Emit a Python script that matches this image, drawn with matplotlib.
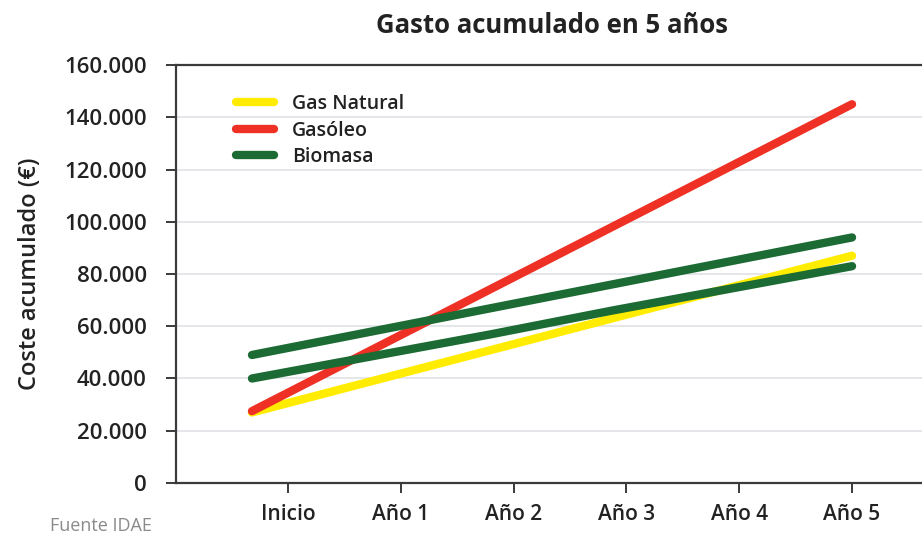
import matplotlib
matplotlib.use("Agg")
import matplotlib.pyplot as plt
import numpy as np
from matplotlib.ticker import FuncFormatter

categories = ["Inicio", "Año 1", "Año 2", "Año 3", "Año 4", "Año 5"]
gas_natural = [27000, 39000, 51000, 63000, 75000, 87000]
gasoleo = [27500, 51000, 74500, 98000, 121500, 145000]
biomasa_alta = [49000, 58000, 67000, 76000, 85000, 94000]
biomasa_baja = [40000, 48500, 57000, 66000, 74500, 83000]
y_ticks = [0, 20000, 40000, 60000, 80000, 100000, 120000, 140000, 160000]

plt.rcParams['font.family'] = ['Open Sans', 'DejaVu Sans']

fig = plt.figure(figsize=(9.22, 5.42), dpi=100)
ax = fig.add_axes([0.1909, 0.1089, 0.8091, 0.7711])

x = np.arange(len(categories))
YEL = "#FFEC00"
RED = "#EE3124"
GRN = "#1C6A34"
lw = 6.0
kw = dict(linewidth=lw, solid_capstyle="round", zorder=3)
ax.plot(x, gas_natural, color=YEL, label="Gas Natural", **kw)
ax.plot(x, gasoleo, color=RED, label="Gasóleo", **kw)
ax.plot(x, biomasa_alta, color=GRN, label="Biomasa", **kw)
ax.plot(x, biomasa_baja, color=GRN, **kw)

ax.set_xlim(-0.633, 5.583)
ax.set_ylim(0, 160000)
ax.set_yticks(y_ticks)
ax.yaxis.set_major_formatter(FuncFormatter(lambda v, p: f"{int(v):,}".replace(",", ".")))
ax.set_xticks(np.linspace(0.3, 5, len(categories)))
ax.set_xticklabels(categories)

for s in ["left", "bottom", "top"]:
    ax.spines[s].set_color("#3a3a3a")
    ax.spines[s].set_linewidth(1.6)
ax.spines["right"].set_visible(False)

ax.grid(axis="y", color="#dfe2e6", linewidth=1.2, zorder=0)
ax.set_axisbelow(True)
ax.tick_params(axis="both", direction="out", length=7, width=1.4, color="#3a3a3a",
               labelcolor="#222222")
ax.tick_params(axis="y", pad=14, labelsize=16)
ax.tick_params(axis="x", pad=8, labelsize=15)
for t in ax.get_yticklabels():
    t.set_fontweight("semibold")
for t in ax.get_xticklabels():
    t.set_fontweight("semibold")

ax.set_ylabel("Coste acumulado (€)", fontsize=17, fontweight="semibold", color="#222222", labelpad=16)
fig.text(0.599, 0.953, "Gasto acumulado en 5 años", ha="center", va="center",
         fontsize=18.5, fontweight="bold", color="#222222")
fig.text(0.054, 0.012, "Fuente IDAE", ha="left", va="bottom", fontsize=13, color="#8a8a8a")

leg = ax.legend(loc="upper left", bbox_to_anchor=(0.08, 0.93), frameon=False,
                fontsize=14, handlelength=1.95, handletextpad=0.95, labelspacing=0.33,
                borderaxespad=0, borderpad=0)
for t in leg.get_texts():
    t.set_color("#222222")
    t.set_fontweight("semibold")

fig.savefig("out.png", dpi=100)
